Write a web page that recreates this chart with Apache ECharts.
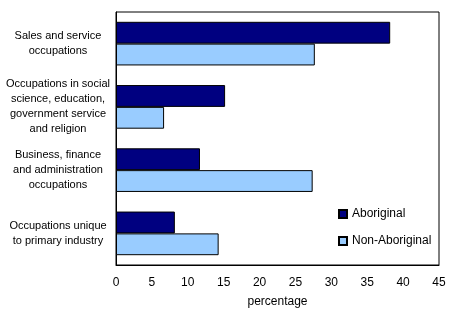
<!DOCTYPE html>
<html>
<head>
<meta charset="utf-8">
<style>
  html, body { margin: 0; padding: 0; background: #fff; }
  #chart { width: 452px; height: 313px; }
</style>
<script src="https://cdn.jsdelivr.net/npm/echarts@6/dist/echarts.min.js"></script>
</head>
<body>
<div id="chart"></div>
<script>
  // occupation groups, top to bottom
  var categories = [
    'Sales and service\noccupations',
    'Occupations in social\nscience, education,\ngovernment service\nand religion',
    'Business, finance\nand administration\noccupations',
    'Occupations unique\nto primary industry'
  ]
  var aboriginal = [38.2, 15.2, 11.7, 8.2]
  var nonAboriginal = [27.7, 6.7, 27.4, 14.3]
  var xTicks = { min: 0, max: 45, interval: 5 }

  var font = 'Liberation Sans, Arial, sans-serif'
  var chart = echarts.init(document.getElementById('chart'), null, { renderer: 'canvas' })

  chart.setOption({
    animation: false,
    textStyle: { fontFamily: font, color: '#000' },
    grid: {
      left: 116,
      right: 13,
      top: 12,
      bottom: 48,
      show: true,
      borderColor: '#000',
      borderWidth: 1,
      backgroundColor: '#fff'
    },
    legend: {
      orient: 'vertical',
      left: 338,
      top: 208,
      padding: 0,
      itemWidth: 8,
      itemHeight: 8,
      itemGap: 15,
      icon: 'rect',
      textStyle: { fontFamily: font, fontSize: 12, color: '#000' },
      data: ['Aboriginal', 'Non-Aboriginal']
    },
    xAxis: {
      type: 'value',
      min: xTicks.min,
      max: xTicks.max,
      interval: xTicks.interval,
      name: 'percentage',
      nameLocation: 'middle',
      nameGap: 31,
      nameTextStyle: { fontFamily: font, fontSize: 12, color: '#000' },
      axisLine: { show: true, lineStyle: { color: '#000' } },
      axisTick: { show: false },
      splitLine: { show: false },
      axisLabel: { fontFamily: font, fontSize: 12, color: '#000', margin: 12 }
    },
    yAxis: {
      type: 'category',
      inverse: true,
      data: categories,
      axisLine: { show: true, lineStyle: { color: '#000' } },
      axisTick: { show: false },
      axisLabel: {
        fontFamily: font,
        fontSize: 11,
        color: '#000',
        lineHeight: 15,
        align: 'center',
        margin: 58
      }
    },
    series: [
      {
        name: 'Aboriginal',
        type: 'bar',
        data: aboriginal,
        barGap: '0%',
        barCategoryGap: '31%',
        itemStyle: { color: '#000080', borderColor: '#000', borderWidth: 1 }
      },
      {
        name: 'Non-Aboriginal',
        type: 'bar',
        data: nonAboriginal,
        barGap: '0%',
        barCategoryGap: '31%',
        itemStyle: { color: '#99ccff', borderColor: '#000', borderWidth: 1 }
      }
    ]
  })
</script>
</body>
</html>
